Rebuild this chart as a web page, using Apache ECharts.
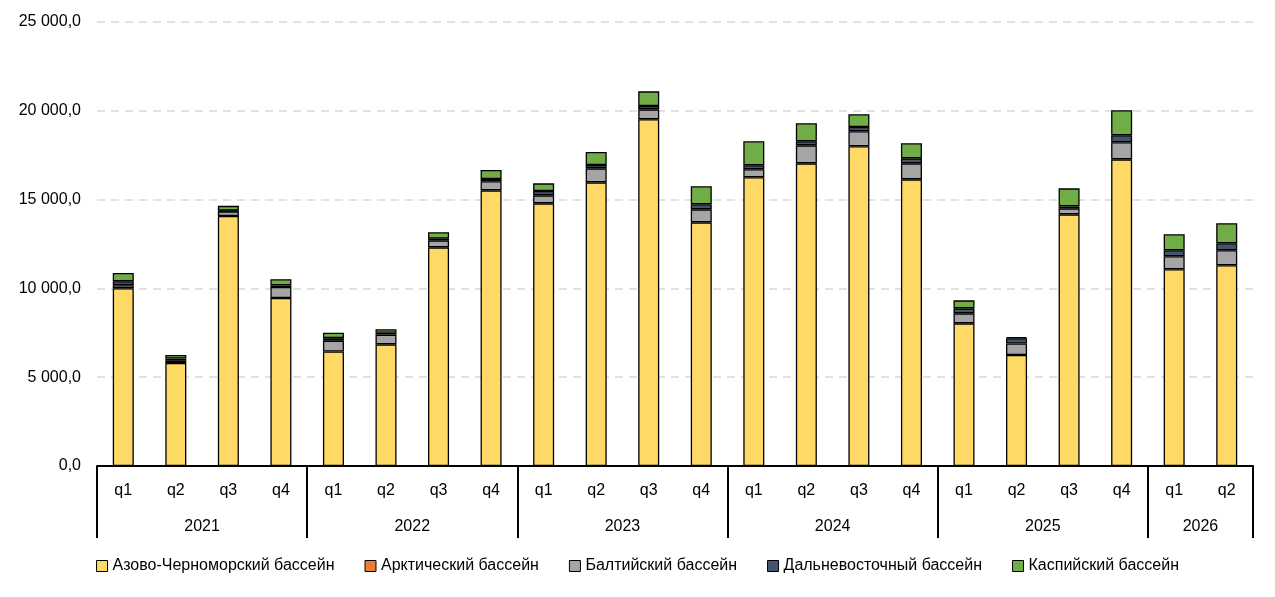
<!DOCTYPE html>
<html>
<head>
<meta charset="utf-8">
<script src="https://cdn.jsdelivr.net/npm/echarts@6/dist/echarts.min.js"></script>
<style>html,body{margin:0;background:#fff}#chart{width:1275px;height:597px}</style>
</head>
<body>
<div id="chart"></div>
<script>
var quarters = ['q1','q2','q3','q4','q1','q2','q3','q4','q1','q2','q3','q4','q1','q2','q3','q4','q1','q2','q3','q4','q1','q2'];
var years = ['2021','2022','2023','2024','2025','2026'];
var yearBounds = [0, 4, 8, 12, 16, 20, 22];
var yearCenters = [2, 6, 10, 14, 18, 21];

var azov = [10006, 5800, 14077, 9459, 6450, 6850, 12312, 15522, 14790, 15972, 19520, 13720, 16256, 17042, 18000, 16141, 8033, 6250, 14170, 17267, 11075, 11300];
// Arctic basin is effectively empty in every quarter
var arctic = [null, null, null, null, null, null, null, null, null, null, null, null, null, null, null, null, null, null, null, null, null, null];
var baltic = [170, 150, 260, 620, 600, 550, 394, 507, 450, 788, 563, 732, 450, 1014, 845, 901, 563, 650, 338, 959, 732, 845];
var fareast = [225, 100, 40, 95, 150, 100, 94, 131, 244, 188, 187, 282, 226, 227, 243, 281, 281, 300, 112, 394, 338, 394];
var caspian = [470, 200, 270, 340, 300, 200, 359, 507, 432, 732, 826, 1016, 1351, 1013, 714, 847, 451, 50, 1014, 1408, 901, 1127];

var names = ['Азово-Черноморский бассейн', 'Арктический бассейн', 'Балтийский бассейн', 'Дальневосточный бассейн', 'Каспийский бассейн'];
var colors = ['#FFD966', '#ED7D31', '#A5A5A5', '#44546A', '#70AD47'];
var values = [azov, arctic, baltic, fareast, caspian];

var font = 'Liberation Sans';
var myChart = echarts.init(document.getElementById('chart'));

var series = names.map(function (n, i) {
    return {
        name: n,
        type: 'bar',
        stack: 'all',
        data: values[i],
        barWidth: '40%',
        itemStyle: { color: colors[i], borderColor: '#000', borderWidth: 1.3 }
    };
});

myChart.setOption({
    animation: false,
    textStyle: { fontFamily: font },
    grid: { left: 97, right: 22, top: 22, bottom: 131 },
    legend: {
        bottom: 18,
        itemWidth: 11, itemHeight: 11, itemGap: 30,
        icon: 'rect',
        itemStyle: { borderColor: '#000', borderWidth: 1 },
        textStyle: { fontSize: 16, color: '#000', fontFamily: font }
    },
    xAxis: [{
        type: 'category',
        data: quarters,
        axisLine: { lineStyle: { color: '#000', width: 2 } },
        axisTick: { show: false },
        axisLabel: { color: '#000', fontSize: 16, margin: 17 }
    }, {
        type: 'value',
        position: 'bottom',
        min: 0, max: 22,
        axisLine: { show: false },
        splitLine: { show: false },
        axisTick: {
            show: true, inside: false, length: 72,
            customValues: yearBounds,
            lineStyle: { color: '#000', width: 2 }
        },
        axisLabel: {
            color: '#000', fontSize: 16, margin: 53,
            customValues: yearCenters,
            formatter: function (v) { return years[yearCenters.indexOf(v)]; }
        }
    }],
    yAxis: {
        type: 'value',
        min: 0, max: 25000, interval: 5000,
        axisLine: { show: false },
        axisTick: { show: false },
        splitLine: { lineStyle: { color: '#D9D9D9', type: [8, 6], width: 1.5 } },
        axisLabel: {
            color: '#000', fontSize: 16, margin: 16,
            formatter: function (v) {
                var s = String(v).replace(/\B(?=(\d{3})+(?!\d))/g, ' ');
                return s + ',0';
            }
        }
    },
    series: series
});
</script>
</body>
</html>
